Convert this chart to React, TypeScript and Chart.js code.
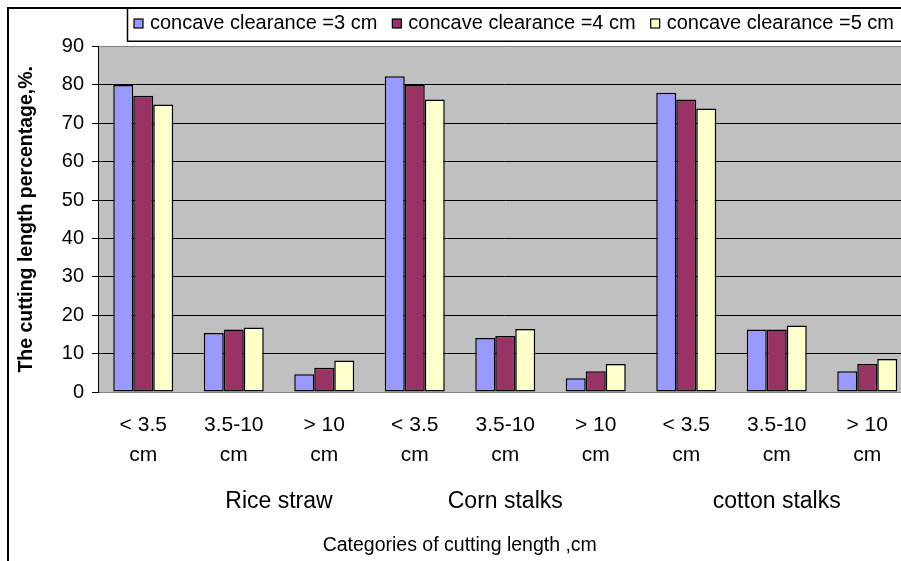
import React, { useEffect, useRef } from "react";
import { Chart, registerables } from "chart.js";

Chart.register(...registerables);

// ---------- data ----------
const sizeClasses: string[][] = [
  ["< 3.5", "cm"],
  ["3.5-10", "cm"],
  ["> 10", "cm"],
];
const materials = ["Rice straw", "Corn stalks", "cotton stalks"];
const seriesNames = [
  "concave clearance =3 cm",
  "concave clearance =4 cm",
  "concave clearance =5 cm",
];
const clearance3 = [80.0, 15.4, 4.6, 82.3, 14.1, 3.6, 78.0, 16.3, 5.4];
const clearance4 = [77.2, 16.3, 6.3, 80.0, 14.6, 5.4, 76.2, 16.3, 7.3];
const clearance5 = [74.9, 16.8, 8.2, 76.2, 16.4, 7.3, 73.9, 17.3, 8.6];
const yMin = 0;
const yMax = 90;
const yStep = 10;

const seriesColors = ["#9999FF", "#993366", "#FFFFCC"];
const FONT = "'Liberation Sans', Arial, Helvetica, sans-serif";

const W = 920;
const H = 560;

export default function App() {
  const ref = useRef<HTMLCanvasElement | null>(null);

  useEffect(() => {
    if (!ref.current) return;
    Chart.defaults.font.family = FONT;
    Chart.defaults.color = "#000";

    const categories = materials.flatMap(() => sizeClasses);
    const series = [clearance3, clearance4, clearance5];
    // positions (in category units) where the material group labels sit
    const materialLabelAt = [2.0, 4.5, 7.5];

    const decor = {
      id: "decor",
      beforeDraw(chart: any) {
        const { ctx, chartArea } = chart;
        ctx.save();
        ctx.fillStyle = "#fff";
        ctx.fillRect(0, 0, chart.width, chart.height);
        ctx.fillStyle = "#C0C0C0";
        ctx.fillRect(
          chartArea.left,
          chartArea.top,
          chartArea.right - chartArea.left,
          chartArea.bottom - chartArea.top
        );
        ctx.restore();
      },
      afterDraw(chart: any) {
        const { ctx } = chart;
        ctx.save();
        // outer frame
        ctx.strokeStyle = "#000";
        ctx.lineWidth = 2;
        ctx.strokeRect(1, 1, chart.width + 10, chart.height + 10);
        // legend box
        ctx.lineWidth = 1.5;
        ctx.strokeRect(120.5, 0.75, chart.width + 10, 33.5);
        ctx.font = `20px ${FONT}`;
        ctx.textBaseline = "middle";
        ctx.textAlign = "left";
        let x = 127;
        chart.data.datasets.forEach((ds: any) => {
          ctx.fillStyle = ds.backgroundColor;
          ctx.fillRect(x, 12, 9, 9);
          ctx.lineWidth = 1.2;
          ctx.strokeStyle = "#000";
          ctx.strokeRect(x, 12, 9, 9);
          ctx.fillStyle = "#000";
          ctx.fillText(ds.label, x + 16, 16.5);
          x += 16 + ctx.measureText(ds.label).width + 15;
        });
        ctx.restore();
      },
    };

    const chart = new Chart(ref.current, {
      type: "bar",
      data: {
        labels: categories,
        datasets: series.map((vals, i) => ({
          label: seriesNames[i],
          data: vals,
          backgroundColor: seriesColors[i],
          borderColor: "#000",
          borderWidth: 1.5,
          borderSkipped: false,
          categoryPercentage: 0.663,
          barPercentage: 1,
        })),
      },
      options: {
        responsive: false,
        animation: false,
        devicePixelRatio: 1,
        layout: { padding: { top: 39.6, right: 14.5, left: 0, bottom: 0 } },
        plugins: {
          legend: { display: false },
          tooltip: { enabled: false },
          title: {
            display: true,
            position: "bottom",
            align: "center",
            text: "Categories of cutting length ,cm",
            color: "#000",
            font: { size: 19.5, weight: "normal", family: FONT },
            padding: { top: 12.3, bottom: 9.3 },
          },
        },
        scales: {
          x: {
            type: "category",
            offset: true,
            grid: { display: false, drawTicks: false },
            border: { display: true, color: "#808080", width: 1 },
            ticks: {
              color: "#000",
              font: { size: 21, lineHeight: 30 / 21 },
              padding: 18,
              autoSkip: false,
              maxRotation: 0,
              minRotation: 0,
            },
            afterFit: (s: any) => {
              s.height = 80;
            },
          },
          x2: {
            type: "linear",
            position: "bottom",
            weight: 1,
            offset: false,
            bounds: "data",
            min: 0,
            max: categories.length,
            grid: { display: false, drawTicks: false, offset: false },
            border: { display: false },
            afterBuildTicks: (s: any) => {
              s.ticks = materialLabelAt.map((v) => ({ value: v }));
            },
            ticks: {
              color: "#000",
              font: { size: 23 },
              padding: 15.9,
              autoSkip: false,
              maxRotation: 0,
              minRotation: 0,
              callback: (_v: any, i: number) => materials[i],
            },
            afterFit: (s: any) => {
              s.height = 50;
            },
          },
          y: {
            min: yMin,
            max: yMax,
            ticks: { stepSize: yStep, color: "#000", font: { size: 20 }, padding: 8 },
            grid: {
              color: (c: any) =>
                c.tick && (c.tick.value === yMin || c.tick.value === yMax) ? "#808080" : "#000",
              tickColor: "#000",
              tickLength: 6,
              lineWidth: 1,
            },
            border: { color: "#000", width: 1 },
            title: {
              display: true,
              text: "The cutting length percentage,%.",
              color: "#000",
              font: { size: 19.5, weight: "bold" },
              padding: { top: 7.5, bottom: 0 },
            },
            afterFit: (s: any) => {
              s.width = 91;
            },
          },
        },
      },
      plugins: [decor],
    } as any);

    return () => chart.destroy();
  }, []);

  return (
    <div
      style={{
        position: "fixed",
        left: 7,
        top: 7,
        width: 894,
        height: 554,
        overflow: "hidden",
        background: "#fff",
      }}
    >
      <canvas
        ref={ref}
        width={W}
        height={H}
        style={{ display: "block", width: W, height: H }}
      />
    </div>
  );
}
